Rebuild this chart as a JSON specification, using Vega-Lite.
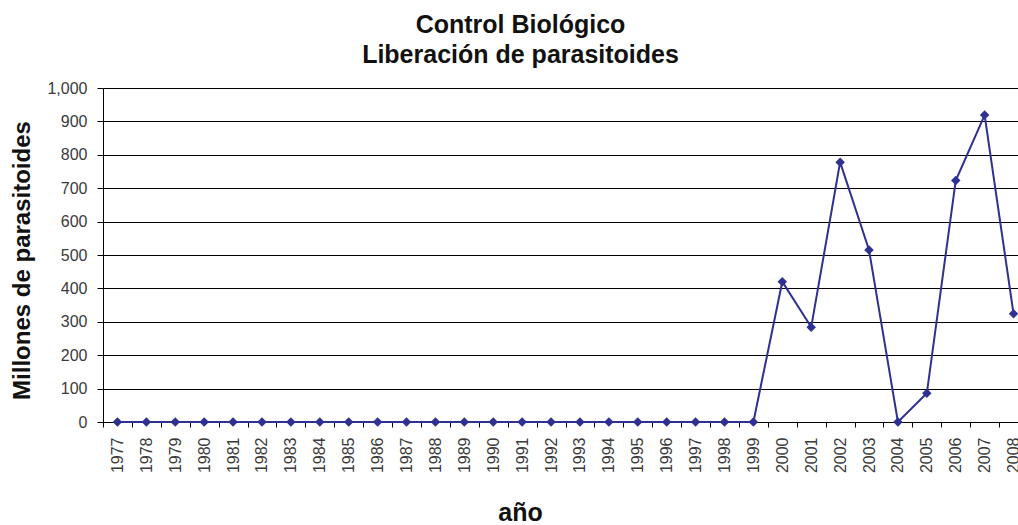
{
  "$schema": "https://vega.github.io/schema/vega-lite/v6.json",
  "width": 915,
  "height": 334,
  "autosize": {"type": "none"},
  "padding": {"left": 103, "top": 88, "right": 0, "bottom": 103},
  "background": "white",
  "config": {"view": {"stroke": null}, "font": "Liberation Sans"},
  "title": {
    "text": ["Control Biológico", "Liberación de parasitoides"],
    "font": "Liberation Sans",
    "fontSize": 25,
    "fontWeight": "bold",
    "color": "#111111",
    "lineHeight": 30,
    "anchor": "middle",
    "dx": -40,
    "offset": 12
  },
  "data": {
    "values": [
      {"year": "1977", "value": 0},
      {"year": "1978", "value": 0},
      {"year": "1979", "value": 0},
      {"year": "1980", "value": 0},
      {"year": "1981", "value": 0},
      {"year": "1982", "value": 0},
      {"year": "1983", "value": 0},
      {"year": "1984", "value": 0},
      {"year": "1985", "value": 0},
      {"year": "1986", "value": 0},
      {"year": "1987", "value": 0},
      {"year": "1988", "value": 0},
      {"year": "1989", "value": 0},
      {"year": "1990", "value": 0},
      {"year": "1991", "value": 0},
      {"year": "1992", "value": 0},
      {"year": "1993", "value": 0},
      {"year": "1994", "value": 0},
      {"year": "1995", "value": 0},
      {"year": "1996", "value": 0},
      {"year": "1997", "value": 0},
      {"year": "1998", "value": 0},
      {"year": "1999", "value": 0},
      {"year": "2000", "value": 420},
      {"year": "2001", "value": 284},
      {"year": "2002", "value": 778},
      {"year": "2003", "value": 515},
      {"year": "2004", "value": 0},
      {"year": "2005", "value": 86},
      {"year": "2006", "value": 723},
      {"year": "2007", "value": 919},
      {"year": "2008", "value": 324}
    ]
  },
  "encoding": {
    "x": {
      "field": "year",
      "type": "ordinal",
      "bandPosition": 0.5,
      "scale": {"type": "band", "range": [0, 925], "paddingInner": 0, "paddingOuter": 0},
      "axis": {
        "title": "año",
        "titleFont": "Liberation Sans",
        "titleFontSize": 25,
        "titleFontWeight": "bold",
        "titleColor": "#111111",
        "titleX": 417,
        "titleY": 98,
        "titleBaseline": "alphabetic",
        "titleAnchor": null,
        "labelAngle": 270,
        "labelAlign": "right",
        "labelBaseline": "middle",
        "labelFont": "Liberation Sans",
        "labelFontSize": 16,
        "labelColor": "#3a3a3a",
        "labelPadding": 10,
        "tickBand": "extent",
        "tickSize": 5,
        "tickColor": "#000000",
        "domainColor": "#000000",
        "grid": false,
        "labelOverlap": false,
        "labelBound": false
      }
    },
    "y": {
      "field": "value",
      "type": "quantitative",
      "scale": {"domain": [0, 1000], "nice": false},
      "axis": {
        "title": "Millones de parasitoides",
        "titleFont": "Liberation Sans",
        "titleFontSize": 24,
        "titleFontWeight": "bold",
        "titleColor": "#111111",
        "titleAngle": -90,
        "titleX": -81,
        "titleY": 172,
        "titleBaseline": "middle",
        "titleAlign": "center",
        "values": [0, 100, 200, 300, 400, 500, 600, 700, 800, 900, 1000],
        "format": ",.0f",
        "labelFont": "Liberation Sans",
        "labelFontSize": 16,
        "labelColor": "#3a3a3a",
        "labelPadding": 10,
        "tickSize": 6,
        "tickColor": "#000000",
        "domainColor": "#000000",
        "grid": true,
        "gridColor": "#000000",
        "gridWidth": 1,
        "gridOpacity": 1
      }
    }
  },
  "layer": [
    {"mark": {"type": "line", "color": "#2E3192", "strokeWidth": 2}},
    {"mark": {"type": "point", "shape": "diamond", "filled": true, "size": 90, "color": "#2E3192", "opacity": 1}}
  ]
}
